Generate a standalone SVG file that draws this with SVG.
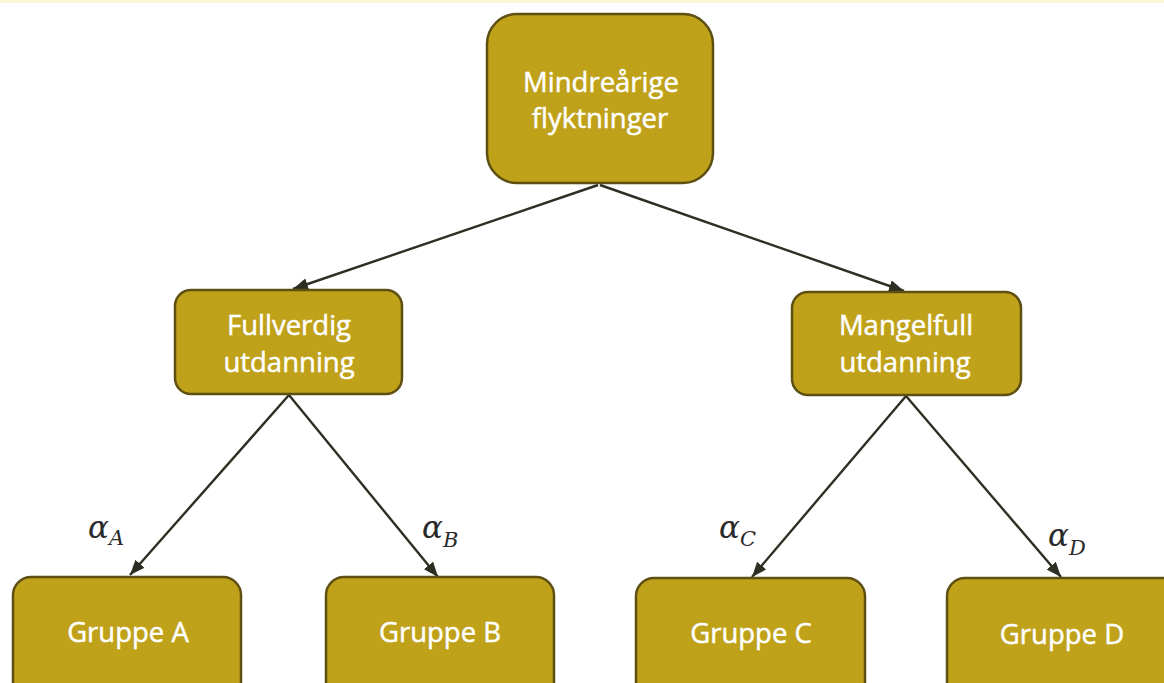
<svg xmlns="http://www.w3.org/2000/svg" width="1164" height="683" viewBox="0 0 1164 683">
<defs>
<style>
.box{fill:#BFA21A;stroke:#5E5012;stroke-width:2.5}
.lbl{font-family:"Open Sans","Liberation Sans",sans-serif;font-size:27.5px;fill:#FFFFFF;stroke:#FFFFFF;stroke-width:0.45;text-anchor:middle}
.edge{stroke:#2E2E22;stroke-width:2.4;fill:none;marker-end:url(#arr)}
.alpha{font-family:"DejaVu Serif","Liberation Serif",serif;font-style:italic;font-size:31px;fill:#2A2A2A}
.sub{font-size:21px}
</style>
<marker id="arr" markerUnits="userSpaceOnUse" markerWidth="16" markerHeight="12" refX="15" refY="6" orient="auto">
<path d="M0,0 L15,6 L0,12 Z" fill="#2E2E22"/>
</marker>
</defs>
<rect width="1164" height="683" fill="#FFFFFF"/>
<rect x="0" y="0" width="1164" height="3" fill="#FBF6D6"/>

<g id="connectors">
<line class="edge" x1="598" y1="185" x2="293" y2="289"/>
<line class="edge" x1="600" y1="185" x2="904" y2="291"/>
<line class="edge" x1="289" y1="395" x2="130" y2="575"/>
<line class="edge" x1="289" y1="395" x2="438" y2="577"/>
<line class="edge" x1="906" y1="396" x2="752" y2="577"/>
<line class="edge" x1="906" y1="396" x2="1061" y2="577"/>
</g>

<g id="edge-labels">
<text class="alpha" x="88" y="538">α<tspan class="sub" dy="7">A</tspan></text>
<text class="alpha" x="422" y="538">α<tspan class="sub" dy="9">B</tspan></text>
<text class="alpha" x="719" y="538">α<tspan class="sub" dy="8">C</tspan></text>
<text class="alpha" x="1048" y="546">α<tspan class="sub" dy="9">D</tspan></text>
</g>

<g id="node-root">
<rect class="box" x="487" y="14" width="226" height="169" rx="30"/>
<text class="lbl" x="601" y="92">Mindreårige</text>
<text class="lbl" x="600" y="128">flyktninger</text>
</g>

<g id="node-fullverdig">
<rect class="box" x="175" y="290" width="227" height="104" rx="16"/>
<text class="lbl" x="289" y="335">Fullverdig</text>
<text class="lbl" x="289" y="372">utdanning</text>
</g>

<g id="node-mangelfull">
<rect class="box" x="792" y="292" width="229" height="103" rx="16"/>
<text class="lbl" x="906" y="335">Mangelfull</text>
<text class="lbl" x="905" y="372">utdanning</text>
</g>

<g id="node-gruppe-a">
<rect class="box" x="13" y="577" width="228" height="125" rx="18"/>
<text class="lbl" x="128" y="642">Gruppe A</text>
</g>

<g id="node-gruppe-b">
<rect class="box" x="326" y="577" width="228" height="125" rx="18"/>
<text class="lbl" x="440" y="642">Gruppe B</text>
</g>

<g id="node-gruppe-c">
<rect class="box" x="636" y="578" width="229" height="125" rx="18"/>
<text class="lbl" x="751" y="643">Gruppe C</text>
</g>

<g id="node-gruppe-d">
<rect class="box" x="947" y="578" width="240" height="125" rx="18"/>
<text class="lbl" x="1062" y="644">Gruppe D</text>
</g>
</svg>
